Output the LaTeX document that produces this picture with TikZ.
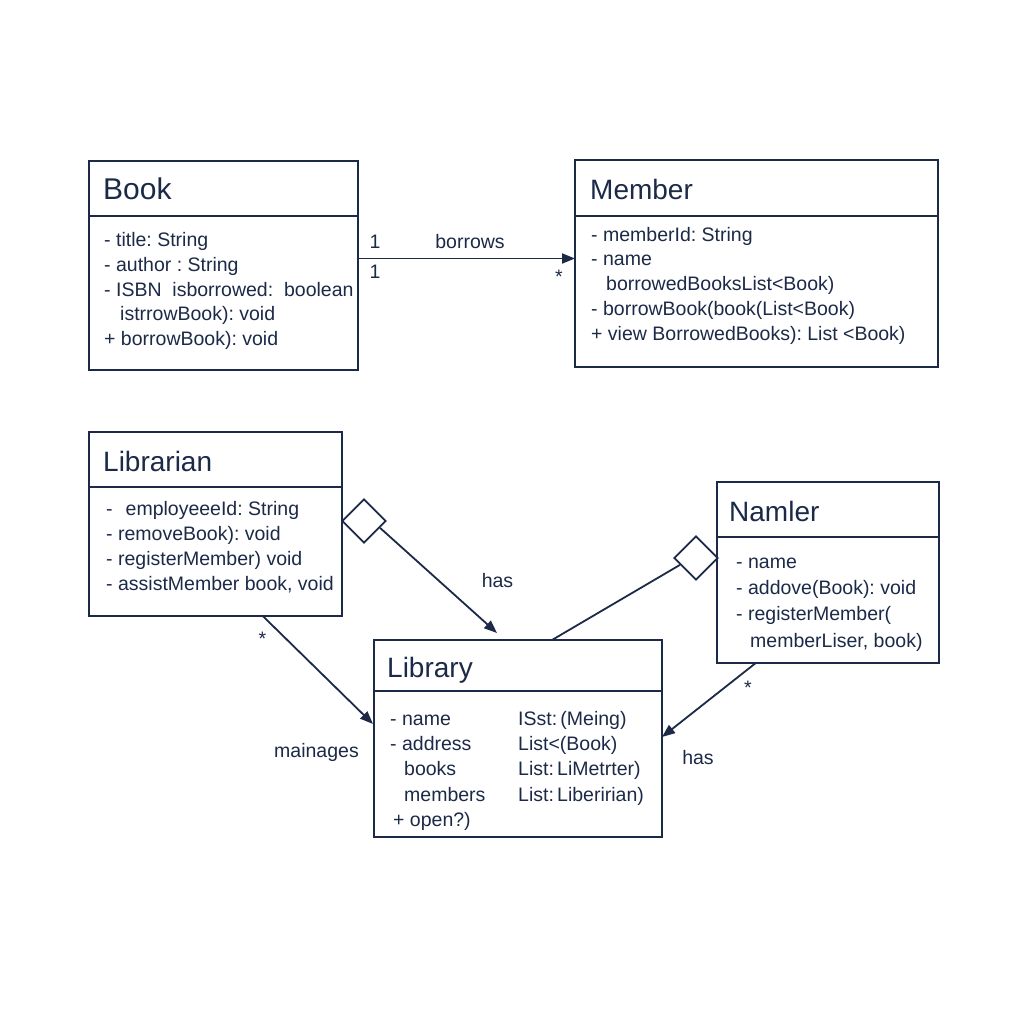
\documentclass[tikz,border=0pt]{standalone}
\usepackage{fontspec}
\setmainfont{Liberation Sans}
\usetikzlibrary{arrows.meta,shapes.geometric,calc}
\definecolor{ink}{HTML}{1C2A48}
\frenchspacing
\begin{document}
\begin{tikzpicture}[x=1pt,y=-1pt,
  classbox/.style={draw=ink, line width=2pt, inner sep=0pt, outer sep=0pt, fill=white},
  clstitle/.style={anchor=base west, inner sep=0pt, text=ink, font=\fontsize{28}{32}\selectfont},
  clsline/.style={anchor=base west, inner sep=0pt, text=ink, font=\fontsize{19.5}{24}\selectfont},
  divider/.style={draw=ink, line width=1.6pt},
  link/.style={draw=ink, line width=1.8pt},
  headtip/.style={-{Triangle[length=13pt,width=10pt]}},
  aggmark/.style={shape=diamond, draw=ink, line width=1.8pt, fill=white,
    minimum width=44pt, minimum height=44pt, inner sep=0pt, aspect=1},
  tag/.style={anchor=base, inner sep=0pt, text=ink, font=\fontsize{19.5}{24}\selectfont}
]
\fill[white] (0,0) rectangle (1024,1024);
\useasboundingbox (0,0) rectangle (1024,1024);

% ---- class boxes ----
\node[classbox, minimum width=269pt, minimum height=209pt] (book) at (223.5,265.5) {};
\node[classbox, minimum width=363pt, minimum height=207pt] (member) at (756.5,263.5) {};
\node[classbox, minimum width=252.5pt, minimum height=183.5pt] (librarian) at (215.25,523.75) {};
\node[classbox, minimum width=221.5pt, minimum height=181pt] (namler) at (827.75,572.5) {};
\node[classbox, minimum width=288pt, minimum height=197pt] (library) at (518,738.5) {};

% ---- compartment dividers ----
\draw[divider] ([yshift=-55pt]book.north west) -- ([yshift=-55pt]book.north east);
\draw[divider] ([yshift=-56pt]member.north west) -- ([yshift=-56pt]member.north east);
\draw[divider] ([yshift=-55pt]librarian.north west) -- ([yshift=-55pt]librarian.north east);
\draw[divider] ([yshift=-55pt]namler.north west) -- ([yshift=-55pt]namler.north east);
\draw[divider] ([yshift=-51pt]library.north west) -- ([yshift=-51pt]library.north east);

% ---- Book ----
\node[clstitle, font=\fontsize{30}{34}\selectfont] (bookT) at (103,200) {Book};
\node[clsline] (book1) at (104,246.5) {- title: String};
\node[clsline] (book2) at (104,271.25) {- author : String};
\node[clsline] (book3) at (104,296) {- ISBN\ \ isborrowed:\ \ boolean};
\node[clsline] (book4) at (120,320.75) {istrrowBook): void};
\node[clsline] (book5) at (104,345.5) {+ borrowBook): void};

% ---- Member ----
\node[clstitle] (memberT) at (590,200) {Member};
\node[clsline] (member1) at (591,241) {- memberId: String};
\node[clsline] (member2) at (591,265.75) {- name};
\node[clsline] (member3) at (606,290.5) {borrowedBooksList<Book)};
\node[clsline] (member4) at (591,315.25) {- borrowBook(book(List<Book)};
\node[clsline] (member5) at (591,340) {+ view BorrowedBooks): List <Book)};

% ---- Librarian ----
\node[clstitle] (librarianT) at (103,471) {Librarian};
\node[clsline] (lib1) at (106,515) {-\hspace{13pt}employeeeId: String};
\node[clsline] (lib2) at (106,540) {- removeBook): void};
\node[clsline] (lib3) at (106,565) {- registerMember) void};
\node[clsline] (lib4) at (106,590) {- assistMember book, void};

% ---- Namler ----
\node[clstitle] (namlerT) at (729,521) {Namler};
\node[clsline] (nam1) at (736,568) {- name};
\node[clsline] (nam2) at (736,594.3) {- addove(Book): void};
\node[clsline] (nam3) at (736,620.6) {- registerMember(};
\node[clsline] (nam4) at (750,647) {memberLiser, book)};

% ---- Library ----
\node[clstitle] (libraryT) at (387,677) {Library};
\node[clsline] (lyA1) at (390,725) {- name};
\node[clsline] (lyA2) at (390,750.4) {- address};
\node[clsline] (lyA3) at (404,775.8) {books};
\node[clsline] (lyA4) at (404,801.2) {members};
\node[clsline] (lyA5) at (393,826.6) {+ open?)};
\node[clsline] (lyB1) at (518,725) {ISst:\,(Meing)};
\node[clsline] (lyB2) at (518,750.4) {List<(Book)};
\node[clsline] (lyB3) at (518,775.8) {List:\,LiMetrter)};
\node[clsline] (lyB4) at (518,801.2) {List:\,Liberirian)};

% ---- Book borrows Member ----
\coordinate (bA) at ([yshift=7pt]book.east);
\draw[link,headtip] (bA) -- (bA -| member.west);
\node[tag] (m1) at (375,248) {1};
\node[tag] (m2) at (375,278) {1};
\node[tag] (borrowsL) at (470,248) {borrows};
\node[tag] (m3) at (559,283) {*};

% ---- aggregation: Librarian has Library ----
\node[aggmark] (dL) at (364,521) {};
\draw[link,headtip] ($(dL.east)!0.3!(dL.south)$) -- ([xshift=-21pt,yshift=7pt]library.north);
\node[tag] (hasL) at (497.5,587) {has};

% ---- aggregation: Namler to Library ----
\node[aggmark] (dR) at (696,558) {};
\draw[link] ($(dR.west)!0.3!(dR.south)$) -- ([xshift=34pt]library.north);

% ---- Namler has Library ----
\draw[link,headtip] ([xshift=-72pt]namler.south) -- ([yshift=1.5pt]library.east);
\node[tag] (m4) at (748,694) {*};
\node[tag] (hasR) at (698,764) {has};

% ---- Librarian manages Library ----
\draw[link,headtip] ([xshift=47pt]librarian.south) -- ([xshift=-1pt,yshift=14.5pt]library.west);
\node[tag] (m5) at (262.5,645) {*};
\node[tag] (managesL) at (316.5,757) {mainages};
\end{tikzpicture}
\end{document}
